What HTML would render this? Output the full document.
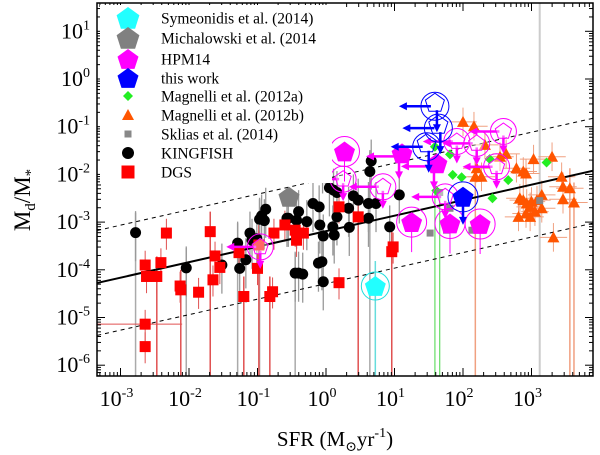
<!DOCTYPE html>
<html><head><meta charset="utf-8">
<style>
html,body{margin:0;padding:0;background:#fff;}
svg{display:block;font-family:"Liberation Serif","DejaVu Serif",serif;}
</style></head>
<body>
<svg id="chart" width="600" height="455" viewBox="0 0 600 455" xmlns="http://www.w3.org/2000/svg">
<defs><clipPath id="clip"><rect x="97" y="3" width="496" height="373"/></clipPath></defs>
<g id="plot" clip-path="url(#clip)"></g>
<g id="axes"></g>
<g id="legend"></g>
</svg>
<script>
// ---- data (log10 SFR, log10 Md/M*) ----
const xTicks = [-3,-2,-1,0,1,2,3];
const yTicks = [1,0,-1,-2,-3,-4,-5,-6];
const kfX = [-2.78,-2.04,-1.29,-1.26,-1.17,-1.11,-1.08,-1.01,-0.97,-0.94,-0.88,-0.90,-1.52,-0.57,-0.45,-0.01,-0.05,0.66,0.64,0.05,0.11,0.16,0.40,0.47,0.62,0.73,1.07,-0.19,-0.10,-0.40,-0.55,-0.43,-0.28,0.16,0.33,0.62,-0.09,0.10,0.12,-0.04,0.34,0.93,-0.11,-0.06,-0.40,-0.34,-0.04];
const kfY = [-3.22,-3.96,-3.44,-3.97,-3.79,-3.23,-3.38,-3.35,-2.94,-2.87,-2.73,-2.97,-3.90,-2.92,-4.07,-1.61,-1.80,-1.72,-1.94,-2.28,-2.33,-2.38,-2.45,-2.54,-2.61,-2.61,-2.43,-2.61,-2.68,-2.78,-2.92,-2.96,-2.99,-2.89,-2.71,-2.92,-3.06,-3.10,-3.27,-3.29,-3.11,-3.10,-3.86,-3.83,-4.07,-4.09,-4.25];
const dgsX = [-2.64,-2.62,-2.47,-2.41,-2.33,-2.64,-2.64,-2.13,-2.12,-1.86,-1.69,-1.62,-1.55,-1.65,-1.27,-1.20,-1.00,-0.98,-0.82,-0.78,-0.76,-0.60,-0.45,-0.33,-0.43,0.19,0.47,0.96,0.98,0.19];
const dgsY = [-3.90,-4.14,-4.14,-3.85,-3.23,-5.14,-5.61,-4.34,-4.42,-4.47,-3.20,-3.71,-3.95,-4.21,-3.64,-4.56,-3.97,-3.48,-4.56,-4.46,-3.23,-3.06,-3.17,-3.23,-3.38,-2.68,-2.89,-3.62,-3.52,-4.27];
const m12bX = [2.00,2.16,2.32,2.20,2.18,2.27,2.63,2.78,2.88,2.92,3.03,3.30,2.83,2.88,2.93,3.00,3.08,3.15,2.98,3.05,3.15,2.81,2.98,2.92,3.44,3.46,3.56,3.46,3.62,3.32,2.54];
const m12bY = [-0.90,-0.99,-1.38,-1.87,-2.05,-2.05,-1.57,-1.87,-1.94,-1.98,-1.68,-1.63,-2.50,-2.54,-2.61,-2.57,-2.54,-2.43,-2.68,-2.78,-2.71,-2.89,-2.89,-2.82,-2.05,-2.26,-2.29,-2.52,-2.59,-3.32,-1.63];
const m12aX = [1.81,1.85,1.98,1.61,2.43,2.39,2.66,3.22,1.59];
const m12aY = [-1.58,-2.01,-2.06,-2.34,-2.50,-1.68,-2.12,-1.75,-1.42];
const sklX = [1.66,1.81,1.52,1.76,2.13,3.12];
const sklY = [-2.38,-2.71,-3.23,-3.17,-3.17,-2.55];
const hpmFillX = [0.27,1.25,1.81,2.25,1.62,1.11];
const hpmFillY = [-1.52,-3.00,-3.03,-3.04,-1.77,-1.56];
const hpmFillCirc = [1,1,1,1,0,0];
const hpmLimX = [0.25,0.83,1.91,2.20,2.59,2.49,1.74,-0.96];
const hpmLimY = [-2.10,-2.26,-1.31,-1.35,-1.10,-1.84,-2.47,-3.52];
const blueLimX = [1.59,1.64,1.47];
const blueLimY = [-0.57,-1.03,-1.42];
const blueX = [2.00];
const blueY = [-2.47];
const cyanX = [0.72], cyanY = [-4.34];
const michX = [-0.54], michY = [-2.47];
const longGreyX = [-2.78,-2.04,-1.29,-0.97,-0.45,0.64,3.12];
const longRedX = [-2.47,-2.12,-1.69,-1.20,-0.98,-0.82,0.47,0.96];
const longOrangeX = [2.18,3.56,3.62];
const longGreenX = [1.59,1.66];
const fitA = -3.19, fitB = 0.325, scatter = 1.1;

// ---- axis functions ----
const X0=326, XD=68.5, Y0=79, YD=47.7, LEFT=97, RIGHT=593, TOP=3, BOT=376;
const sx = l => X0 + l*XD;
const sy = l => Y0 - l*YD;
const NS="http://www.w3.org/2000/svg";
const plot=document.getElementById('plot'), axes=document.getElementById('axes'), legend=document.getElementById('legend');
function mk(tag, attrs, parent){const e=document.createElementNS(NS,tag);for(const k in attrs)e.setAttribute(k,attrs[k]);(parent||plot).appendChild(e);return e;}
function pentPts(cx,cy,r){let p=[];for(let i=0;i<5;i++){const a=-Math.PI/2+i*2*Math.PI/5;p.push((cx+r*Math.cos(a)).toFixed(1)+','+(cy+r*Math.sin(a)).toFixed(1));}return p.join(' ');}
function arrowLeft(x,y,col,len){const l=mk('line',{x1:x,y1:y,x2:x-len+6,y2:y,stroke:col,'stroke-width':2.5});mk('polygon',{points:`${x-len},${y} ${x-len+8},${y-4} ${x-len+8},${y+4}`,fill:col});}
function arrowDown(x,y,col,len){const l=mk('line',{x1:x,y1:y,x2:x,y2:y+len-6,stroke:col,'stroke-width':2.5});mk('polygon',{points:`${x},${y+len} ${x-4},${y+len-8} ${x+4},${y+len-8}`,fill:col});}

function barsFrom(xs,ys,arr,col,name){arr.forEach(v=>{let i=xs.indexOf(v);if(i<0)return;const e=mk('line',{x1:sx(v),x2:sx(v),y1:sy(ys[i])-20,y2:BOT,stroke:col,'stroke-width':1.5});});}
barsFrom(kfX,kfY,longGreyX,'#aaa','kingfish-error-bar');
{const e=mk('line',{x1:sx(3.12),x2:sx(3.12),y1:TOP,y2:BOT,stroke:'#ccc','stroke-width':2});}
barsFrom(dgsX,dgsY,longRedX,'#e05050','dgs-error-bar');
barsFrom(m12bX,m12bY,longOrangeX,'#f0a080','magnelli-b-error-bar');
longGreenX.forEach(v=>{const e=mk('line',{x1:sx(v),x2:sx(v),y1:sy(-2.3),y2:BOT,stroke:'#66dd66','stroke-width':1.2});});
{const e=mk('line',{x1:sx(cyanX[0]),x2:sx(cyanX[0]),y1:sy(cyanY[0])-25,y2:BOT,stroke:'#66dddd','stroke-width':1.5});}
kfX.forEach((v,i)=>{const e=mk('line',{x1:sx(v),x2:sx(v),y1:sy(kfY[i]+0.45),y2:sy(kfY[i]-0.6),stroke:'#999','stroke-width':1.3});});
dgsX.forEach((v,i)=>{const e=mk('line',{x1:sx(v),x2:sx(v),y1:sy(dgsY[i]+0.3),y2:sy(dgsY[i]-0.35),stroke:'#e05050','stroke-width':1});});
{const e=mk('line',{x1:LEFT,x2:sx(-2.1),y1:sy(dgsY[5]),y2:sy(dgsY[5]),stroke:'#e05050','stroke-width':1});}
m12bX.forEach((v,i)=>{const e=mk('line',{x1:sx(v),x2:sx(v),y1:sy(m12bY[i]+0.3),y2:sy(m12bY[i]-0.3),stroke:'#f0a080','stroke-width':1});const h=mk('line',{x1:sx(v-0.2),x2:sx(v+0.2),y1:sy(m12bY[i]),y2:sy(m12bY[i]),stroke:'#f0a080','stroke-width':1});});

const xl=[-3.34,3.9];
{const e=mk('line',{x1:sx(xl[0]),y1:sy(fitA+fitB*xl[0]),x2:sx(xl[1]),y2:sy(fitA+fitB*xl[1]),stroke:'#000','stroke-width':2});}
[scatter,-scatter].forEach(o=>{const e=mk('line',{x1:sx(xl[0]),y1:sy(fitA+o+fitB*xl[0]),x2:sx(xl[1]),y2:sy(fitA+o+fitB*xl[1]),stroke:'#000','stroke-width':1,'stroke-dasharray':'4,4'});});

kfX.forEach((v,i)=>{const e=mk('circle',{cx:sx(v),cy:sy(kfY[i]),r:5.5,fill:'#000'});});
dgsX.forEach((v,i)=>{const e=mk('rect',{x:sx(v)-5.5,y:sy(dgsY[i])-5.5,width:11,height:11,fill:'#f00'});});
m12bX.forEach((v,i)=>{const x=sx(v),y=sy(m12bY[i]);const e=mk('polygon',{points:`${x},${y-6} ${x-6},${y+5} ${x+6},${y+5}`,fill:'#ff5500'});});
m12aX.forEach((v,i)=>{const x=sx(v),y=sy(m12aY[i]);const e=mk('polygon',{points:`${x},${y-5} ${x+5},${y} ${x},${y+5} ${x-5},${y}`,fill:'#22ee22'});});
sklX.forEach((v,i)=>{const e=mk('rect',{x:sx(v)-3.5,y:sy(sklY[i])-3.5,width:7,height:7,fill:'#888'});});
hpmLimX.forEach((v,i)=>{const x=sx(v),y=sy(hpmLimY[i]);arrowLeft(x-4,y,'#ff00ff',30);arrowDown(x,y+4,'#ff00ff',18);
 const c=mk('circle',{cx:x,cy:y,r:13,fill:'none',stroke:'#ff00ff','stroke-width':1});
 const e=mk('polygon',{points:pentPts(x,y,8.5),fill:'#fff','fill-opacity':0.4,stroke:'#ff00ff','stroke-width':1});});
hpmFillX.forEach((v,i)=>{const x=sx(v),y=sy(hpmFillY[i]);
 if(hpmFillCirc[i]){const c=mk('circle',{cx:x,cy:y,r:15,fill:'none',stroke:'#ff00ff','stroke-width':1});
 const b=mk('line',{x1:x,x2:x,y1:y,y2:y+30,stroke:'#ff00ff','stroke-width':1});}
 else{arrowLeft(x-6,y+3,'#ff00ff',30);arrowDown(x-3,y+6,'#ff00ff',20);}
 const e=mk('polygon',{points:pentPts(x,y+1,11),fill:'#ff00ff'});});
blueLimX.forEach((v,i)=>{const x=sx(v),y=sy(blueLimY[i]);arrowLeft(x-4,y,'#0000ff',32);arrowDown(x+2,y+4,'#0000ff',22);
 const c=mk('circle',{cx:x,cy:y,r:14,fill:'none',stroke:'#0000ff','stroke-width':1});
 const e=mk('polygon',{points:pentPts(x,y-3,10),fill:'none',stroke:'#0000ff','stroke-width':1});});
blueX.forEach((v,i)=>{const x=sx(v),y=sy(blueY[i]);arrowDown(x,y+6,'#0000ff',22);
 const c=mk('circle',{cx:x,cy:y,r:15,fill:'none',stroke:'#0000ff','stroke-width':1});
 const e=mk('polygon',{points:pentPts(x,y+1,11),fill:'#0000ff'});});
cyanX.forEach((v,i)=>{const x=sx(v),y=sy(cyanY[i]);const c=mk('circle',{cx:x,cy:y,r:14,fill:'none',stroke:'#22dddd','stroke-width':1});
 const e=mk('polygon',{points:pentPts(x,y+1,11),fill:'#22ffff'});});
michX.forEach((v,i)=>{const e=mk('polygon',{points:pentPts(sx(v),sy(michY[i])+1,11),fill:'#808080'});});

const legLabels=['Symeonidis et al. (2014)','Michalowski et al. (2014','HPM14','this work','Magnelli et al. (2012a)','Magnelli et al. (2012b)','Sklias et al. (2014)','KINGFISH','DGS'];
const legY=[18,38,59,78,96,115,134,153,172];
mk('rect',{x:100,y:5,width:232,height:178,fill:'#fff'},legend);
legLabels.forEach((t,i)=>{const y=legY[i],x=128;let s;
 if(i<4){s=mk('polygon',{points:pentPts(x,y+1,i<2?12:11),fill:['#22ffff','#808080','#ff00ff','#0000ff'][i]},legend);}
 else if(i==4){s=mk('polygon',{points:`${x},${y-5} ${x+5},${y} ${x},${y+5} ${x-5},${y}`,fill:'#22ee22'},legend);}
 else if(i==5){s=mk('polygon',{points:`${x},${y-6} ${x-6},${y+5} ${x+6},${y+5}`,fill:'#ff5500'},legend);}
 else if(i==6){s=mk('rect',{x:x-3.5,y:y-3.5,width:7,height:7,fill:'#888'},legend);}
 else if(i==7){s=mk('circle',{cx:x,cy:y,r:6,fill:'#000'},legend);}
 else {s=mk('rect',{x:x-6.5,y:y-6.5,width:13,height:13,fill:'#f00'},legend);}
 
 const tx=mk('text',{x:161,y:y+5.5,'font-size':15.5,fill:'#000'},legend);tx.textContent=t;
 });

{const f=mk('rect',{x:LEFT,y:TOP,width:RIGHT-LEFT,height:BOT-TOP,fill:'none',stroke:'#000','stroke-width':1.5},axes);}
for(let d=-4;d<=3;d++)for(let m=1;m<10;m++){const x=sx(d+Math.log10(m));if(x<LEFT||x>RIGHT)continue;const L=m==1?8:4;
 mk('line',{x1:x,x2:x,y1:BOT,y2:BOT-L,stroke:'#000','stroke-width':1},axes);mk('line',{x1:x,x2:x,y1:TOP,y2:TOP+L,stroke:'#000','stroke-width':1},axes);}
for(let d=-7;d<=1;d++)for(let m=1;m<10;m++){const y=sy(d+Math.log10(m));if(y<TOP||y>BOT)continue;const L=m==1?8:4;
 mk('line',{x1:LEFT,x2:LEFT+L,y1:y,y2:y,stroke:'#000','stroke-width':1},axes);mk('line',{x1:RIGHT,x2:RIGHT-L,y1:y,y2:y,stroke:'#000','stroke-width':1},axes);}
xTicks.forEach(v=>{const t=mk('text',{x:sx(v)-4,y:406,'font-size':22,'text-anchor':'middle'},axes);t.innerHTML='10<tspan font-size="14" dy="-9">'+(v)+'</tspan>';
 });
yTicks.forEach(v=>{const t=mk('text',{x:90,y:sy(v)+7,'font-size':22,'text-anchor':'end'},axes);t.innerHTML='10<tspan font-size="14" dy="-9">'+v+'</tspan>';
 });
{const t=mk('text',{x:335,y:446,'font-size':21,'text-anchor':'middle'},axes);t.innerHTML='SFR (M<tspan font-size="14" dy="5">⊙</tspan><tspan dy="-5">yr</tspan><tspan font-size="14" dy="-9">-1</tspan><tspan dy="9">)</tspan>';
 }
{const t=mk('text',{x:0,y:0,'font-size':23,'text-anchor':'middle',transform:'translate(30,200) rotate(-90)'},axes);t.innerHTML='M<tspan font-size="15" dy="5">d</tspan><tspan dy="-5">/M</tspan><tspan font-size="15" dy="5">*</tspan>';
 }
</script>
</body></html>
